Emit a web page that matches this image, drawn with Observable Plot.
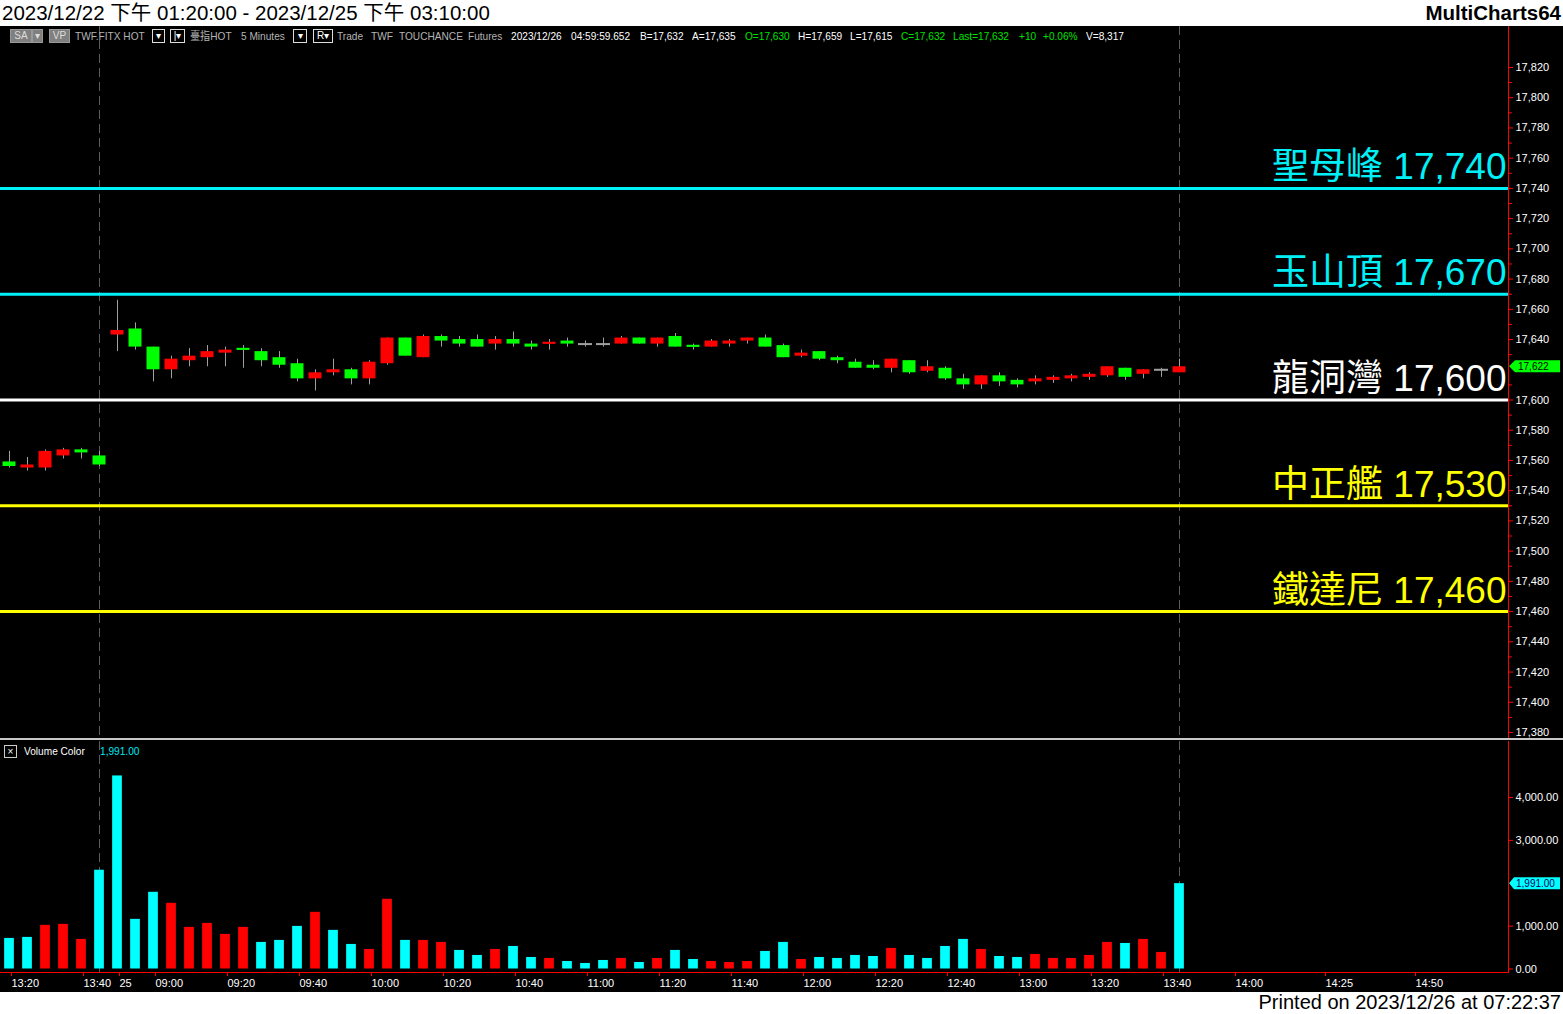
<!DOCTYPE html>
<html><head><meta charset="utf-8">
<script src="https://cdn.jsdelivr.net/npm/d3@7"></script>
<script src="https://cdn.jsdelivr.net/npm/@observablehq/plot@0.6"></script>
<style>
body{margin:0;width:1563px;height:1014px;background:#fff;overflow:hidden;font-family:"Liberation Sans",Arial,"Noto Sans CJK TC",sans-serif;position:relative}
#title{position:absolute;left:2px;top:0;font-size:20.5px;line-height:25px;color:#000;white-space:nowrap}
#brand{position:absolute;right:2px;top:0;font-size:20.5px;font-weight:bold;line-height:25px;color:#000}
#black{position:absolute;left:0;top:26px;width:1563px;height:966px;background:#000}
#price{position:absolute;left:0;top:0}
#sep{position:absolute;left:0;top:712px;width:1563px;height:2px;background:#c8c8c8}
#vol{position:absolute;left:0;top:715px}
#footer{position:absolute;right:2px;top:991px;font-size:20px;line-height:23px;color:#000;white-space:nowrap}
.hd{position:absolute;top:4px;font-size:11px;line-height:13px;white-space:nowrap;transform:scaleX(0.92);transform-origin:0 50%}
.bx{position:absolute;top:3px;height:12px;font-size:10px;line-height:12px;border:1px solid #ddd;color:#fff;text-align:center}
svg{overflow:visible}
</style></head>
<body>
<div id="title">2023/12/22 下午 01:20:00 - 2023/12/25 下午 03:10:00</div>
<div id="brand">MultiCharts64</div>
<div id="black">
  <div id="price"></div>
  <div id="sep"></div>
  <div id="vol"></div>
  <div id="hdr"></div>
  <div id="vleg"></div>
</div>
<div id="footer">Printed on 2023/12/26 at 07:22:37</div>
<script>
// ---------- data ----------
const openP  = [17559,17555,17555,17563,17567,17563,
  17643,17647,17635,17620,17626,17628,17631,17634,17632,17628,17624,17614,17618,17620,
  17614,17624,17641,17628,17642,17640,17640,17637,17640,17637,17637,17639,17637,17637,
  17637,17641,17637,17642,17636,17635,17637,17639,17641,17636,17629,17632,17628,17625,
  17623,17621,17626,17619,17621,17614,17610,17616,17613,17612,17613,17614,17615,17616,
  17621,17617,17620,17618];
const highP  = [17566,17562,17567,17568,17568,17566,
  17666,17651,17635,17629,17634,17636,17635,17636,17634,17632,17627,17620,17627,17621,
  17626,17641,17641,17643,17643,17642,17643,17642,17645,17639,17640,17641,17639,17641,
  17642,17641,17641,17644,17637,17640,17640,17641,17643,17637,17633,17632,17629,17627,
  17626,17627,17626,17626,17622,17617,17616,17618,17614,17616,17616,17617,17618,17622,
  17621,17620,17621,17627];
const lowP   = [17555,17553,17553,17561,17561,17556,
  17632,17633,17612,17614,17622,17622,17622,17621,17622,17621,17612,17606,17616,17610,
  17610,17623,17629,17628,17635,17635,17635,17633,17635,17633,17633,17635,17635,17635,
  17637,17637,17635,17635,17633,17635,17635,17637,17635,17628,17628,17626,17624,17621,
  17620,17618,17617,17618,17613,17607,17607,17609,17608,17610,17611,17612,17613,17615,
  17613,17614,17615,17618];
const closeP = [17556,17557,17566,17567,17565,17557,
  17646,17635,17620,17627,17629,17632,17633,17633,17626,17623,17614,17618,17620,17614,
  17625,17641,17629,17642,17639,17637,17635,17640,17637,17635,17638,17637,17637,17637,
  17641,17637,17641,17635,17635,17639,17639,17641,17635,17628,17631,17627,17626,17621,
  17621,17627,17618,17622,17614,17610,17616,17612,17610,17614,17615,17616,17617,17622,
  17615,17620,17620,17622];
const volume = [713,737,1018,1041,690,2304,
  4503,1158,1789,1532,971,1064,807,971,620,667,
  994,1322,901,573,456,1626,667,667,620,433,
  316,456,526,269,246,175,129,199,246,152,
  246,433,222,175,152,175,409,620,222,269,
  246,316,292,480,316,246,526,690,456,292,
  269,339,246,246,316,620,596,690,386,1991];
const volDir = ["d","d","u","u","u","d",
  "d","d","d","u","u","u","u","u","d","d",
  "d","u","d","d","u","u","d","u","u","d",
  "d","u","d","d","u","d","d","d","u","d",
  "u","d","d","u","u","u","d","d","u","d",
  "d","d","d","u","d","d","d","d","u","d",
  "d","u","u","u","u","u","d","u","u","d"];
const day1Bars = 6;
const tickIdx    = [0,4,6,8,12,16,20,24,28,32,36,40,44,48,52,56,60,64,68,73,78];
const tickLabels = ["13:20","13:40","25","09:00","09:20","09:40","10:00","10:20","10:40","11:00",
  "11:20","11:40","12:00","12:20","12:40","13:00","13:20","13:40","14:00","14:25","14:50"];
const levelNames  = ["聖母峰","玉山頂","龍洞灣","中正艦","鐵達尼"];
const levelValues = [17740,17670,17600,17530,17460];
const priceTicks = d3.range(17380, 17821, 20).filter(v => v !== 17620);
const volTicks = [0,1000,3000,4000];

// ---------- styles ----------
const levelColor = ["#00f0f8","#00f0f8","#ffffff","#ffff00","#ffff00"];
const UP = "#ff0000", DOWN = "#00ff00", WICK = "#a0a0a0", VUP = "#ff0000", VDN = "#00ffff";
const FONT = '"Liberation Sans",Arial,"Noto Sans CJK TC",sans-serif';
const fmt = d3.format(",");

// ---------- header ----------
const hdr = document.getElementById("hdr");
const seg = [
  [75,"TWF.FITX HOT","#b4b4b4"],[190,"臺指HOT","#b4b4b4"],[241,"5 Minutes","#b4b4b4"],
  [337,"Trade","#b4b4b4"],[371,"TWF","#b4b4b4"],[399,"TOUCHANCE","#b4b4b4"],[468,"Futures","#b4b4b4"],
  [511,"2023/12/26","#fff"],[571,"04:59:59.652","#fff"],[640,"B=17,632","#fff"],[692,"A=17,635","#fff"],
  [745,"O=17,630","#00e000"],[798,"H=17,659","#fff"],[850,"L=17,615","#fff"],
  [901,"C=17,632","#00e000"],[953,"Last=17,632","#00e000"],[1019,"+10","#00e000"],[1043,"+0.06%","#00e000"],
  [1086,"V=8,317","#fff"]];
let html = "";
for (const [x,t,c] of seg) html += `<span class="hd" style="left:${x}px;color:${c}">${t}</span>`;
const boxes = [[10,20,"SA","#808080"],[32,9,"▾","#808080"],[49,19,"VP","#808080"],
  [152,11,"▾","#000"],[170,13,"|▾","#000"],[293,12,"▾","#000"],[313,18,"R▾","#000"]];
for (const [x,w,t,bg] of boxes) html += `<span class="bx" style="left:${x}px;width:${w}px;background:${bg};${bg!=="#000"?"border-color:#999;color:#ddd;":""}">${t}</span>`;
hdr.innerHTML = html;

document.getElementById("vleg").innerHTML =
  `<span class="bx" style="left:4px;top:719px;width:11px;height:11px;line-height:11px;font-size:10px;border-color:#ccc">×</span>` +
  `<span class="hd" style="left:24px;top:719px;color:#fff">Volume Color</span>` +
  `<span class="hd" style="left:100px;top:719px;color:#00e8f0">${d3.format(",.2f")(volume[volume.length-1])}</span>`;

// ---------- price panel ----------
const candles = openP.map((o,i)=>({i,o,h:highP[i],l:lowP[i],c:closeP[i]}));
const bodies = candles.filter(d=>d.o!==d.c).map(d=>{
  let lo=Math.min(d.o,d.c), hi=Math.max(d.o,d.c);
  if (hi-lo<1.4){const m=(hi+lo)/2; lo=m-0.7; hi=m+0.7;}
  return {...d, lo, hi, up: d.c>d.o};
});
const dojis = candles.filter(d=>d.o===d.c);
const levels = levelValues.map((v,k)=>({name:levelNames[k], value:v, color:levelColor[k]}));
const sessionMarks = [day1Bars-1, openP.length-1];
const xScale = {type:"linear", domain:[0,83.3], range:[9,1508.4]};

const pricePlot = Plot.plot({
  width:1563, height:712, marginTop:0, marginBottom:0, marginLeft:0, marginRight:55,
  style:{background:"transparent", color:"#fff", fontFamily:FONT, overflow:"visible"},
  x: {...xScale, axis:null},
  y: {domain:[17380,17820], range:[706,41], label:null},
  color: {type:"identity"},
  marks: [
    Plot.ruleX(sessionMarks, {x:d=>d, stroke:"#5c5c5c", strokeDasharray:"9,5"}),
    Plot.ruleY(levels, {y:"value", stroke:"color", strokeWidth:3}),
    Plot.text(levels, {y:"value", text:d=>`${d.name} ${fmt(d.value)}`, frameAnchor:"right",
      textAnchor:"end", lineAnchor:"bottom", dx:-2, dy:-9, fill:"color", fontSize:37, fontFamily:FONT}),
    Plot.ruleX(candles, {x:"i", y1:"l", y2:"h", stroke:WICK}),
    Plot.rect(bodies, {x1:d=>d.i-0.36, x2:d=>d.i+0.36, y1:"lo", y2:"hi", fill:d=>d.up?UP:DOWN}),
    Plot.ruleY(dojis, {y:"c", x1:d=>d.i-0.39, x2:d=>d.i+0.39, stroke:WICK, strokeWidth:2}),
    Plot.axisY({anchor:"right", ticks:d3.range(17390,17820,20), tickSize:3, tickFormat:()=>"", stroke:"#ff0000", label:null}),
    Plot.axisY({anchor:"right", ticks:priceTicks, tickFormat:fmt, tickSize:4, tickPadding:3,
      stroke:"#ff0000", fill:"#fff", fontSize:11, label:null}),
    Plot.frame({anchor:"right", stroke:"#ff0000"})
  ]
});
document.getElementById("price").appendChild(pricePlot);
{
  const y = pricePlot.scale("y").apply(closeP[closeP.length-1]);
  const g = d3.select(pricePlot).append("g");
  g.append("path").attr("d",`M1509,${y} L1515,${y-6} L1560,${y-6} L1560,${y+6} L1515,${y+6} Z`).attr("fill","#00ff00");
  g.append("text").attr("x",1518).attr("y",y+4).attr("font-size",10).attr("fill","#000")
    .attr("text-anchor","start").attr("font-family",FONT).text(fmt(closeP[closeP.length-1]));
}

// ---------- volume panel ----------
const vols = volume.map((v,i)=>({i, v, up: volDir[i]==="u"}));
const volPlot = Plot.plot({
  width:1563, height:250, marginTop:0, marginBottom:19, marginLeft:0, marginRight:55,
  style:{background:"transparent", color:"#fff", fontFamily:FONT, overflow:"visible"},
  x: xScale,
  y: {domain:[0,4000], range:[227.5,56], label:null},
  color: {type:"identity"},
  marks: [
    Plot.ruleX(sessionMarks, {x:d=>d, stroke:"#5c5c5c", strokeDasharray:"9,5"}),
    Plot.rect(vols, {x1:d=>d.i-0.27, x2:d=>d.i+0.27, y1:()=>0, y2:"v", fill:d=>d.up?VUP:VDN}),
    Plot.axisY({anchor:"right", ticks:volTicks, tickFormat:d3.format(",.2f"), tickSize:4, tickPadding:3,
      stroke:"#ff0000", fill:"#fff", fontSize:11, label:null}),
    Plot.axisX({ticks:tickIdx, tickFormat:i=>tickLabels[tickIdx.indexOf(i)], tickSize:4, tickPadding:3,
      stroke:"#ff0000", fill:"#fff", fontSize:11, textAnchor:"start", dx:2, label:null}),
    Plot.frame({anchor:"bottom", stroke:"#ff0000"}),
    Plot.frame({anchor:"right", stroke:"#ff0000"})
  ]
});
document.getElementById("vol").appendChild(volPlot);
{
  const lastV = volume[volume.length-1];
  const y = volPlot.scale("y").apply(lastV);
  const g = d3.select(volPlot).append("g");
  g.append("path").attr("d",`M1509,${y} L1514,${y-6} L1560,${y-6} L1560,${y+6} L1514,${y+6} Z`).attr("fill","#00ffff");
  g.append("text").attr("x",1516).attr("y",y+4).attr("font-size",10).attr("fill","#000060")
    .attr("text-anchor","start").attr("font-family",FONT).text(d3.format(",.2f")(lastV));
}
</script>
</body></html>
